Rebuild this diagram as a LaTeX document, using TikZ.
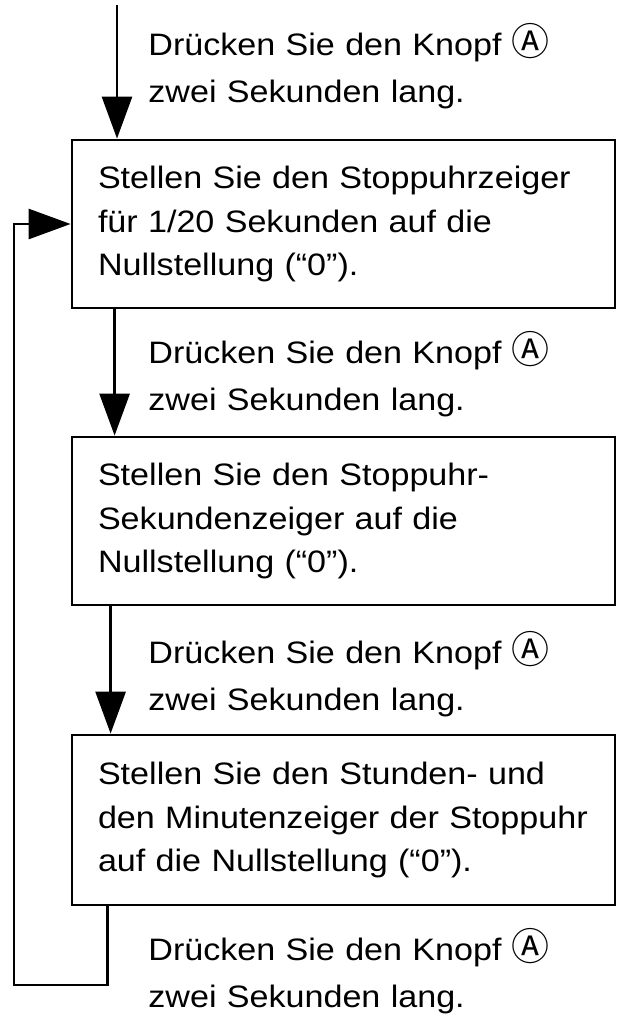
\documentclass[tikz,border=0pt]{standalone}
\usepackage{fontspec}
\setmainfont{Liberation Sans}[FakeStretch=1.1]
\newfontfamily\symfont{Noto Sans CJK JP}
\usetikzlibrary{arrows.meta}
\newcommand{\KnopfA}{{\symfont\fontsize{19}{19}\selectfont Ⓐ}}

\begin{document}
\begin{tikzpicture}[
		%Global config
		x=0.5pt, y=-0.5pt,
		>={Triangle[length=21pt,width=15pt]},
		line width=1.4pt,
		color=black,
		font=\fontsize{15.5}{21.75}\selectfont,
		%Styles
		StepBox/.style={
			draw,
			minimum width=271.5pt,
			minimum height=84pt,
			text width=245.5pt,
			inner xsep=13pt,
			align=left,
		},
		Hint/.style={
			anchor=base west,
			text width=230pt,
			inner sep=0pt,
			align=left,
			font=\fontsize{15.5}{23.5}\selectfont,
		},
		flow/.style={
			->,
			line width=1.4pt,
		}
	]
	\useasboundingbox (0,0) rectangle (624,1017);

	% Steps
	\node[StepBox] at (343.5,224) (S1) {Stellen Sie den Stoppuhrzeiger\\ für 1/20 Sekunden auf die\\ Nullstellung (“0”).};
	\node[StepBox] at (343.5,521) (S2) {Stellen Sie den Stoppuhr-\\ Sekundenzeiger auf die\\ Nullstellung (“0”).};
	\node[StepBox, minimum height=85pt] at (343.5,820) (S3) {Stellen Sie den Stunden- und\\ den Minutenzeiger der Stoppuhr\\ auf die Nullstellung (“0”).};

	% Hints
	\node[Hint] at (147,55) (H1) {Drücken Sie den Knopf \KnopfA\\ zwei Sekunden lang.};
	\node[Hint] at (147,363) (H2) {Drücken Sie den Knopf \KnopfA\\ zwei Sekunden lang.};
	\node[Hint] at (147,663) (H3) {Drücken Sie den Knopf \KnopfA\\ zwei Sekunden lang.};
	\node[Hint] at (147,960) (H4) {Drücken Sie den Knopf \KnopfA\\ zwei Sekunden lang.};

	% Arrows
	\coordinate (start) at (117,5);
	\coordinate (loop) at (14,985);
	\draw[flow] (start) -- (start |- S1.north);
	\draw[flow] ([xshift=22pt]S1.south west) -- ([xshift=22pt]S2.north west);
	\draw[flow] ([xshift=20pt]S2.south west) -- ([xshift=20pt]S3.north west);
	\draw[flow] ([xshift=18.5pt]S3.south west) |- (loop) |- (S1.west);
\end{tikzpicture}
\end{document}
